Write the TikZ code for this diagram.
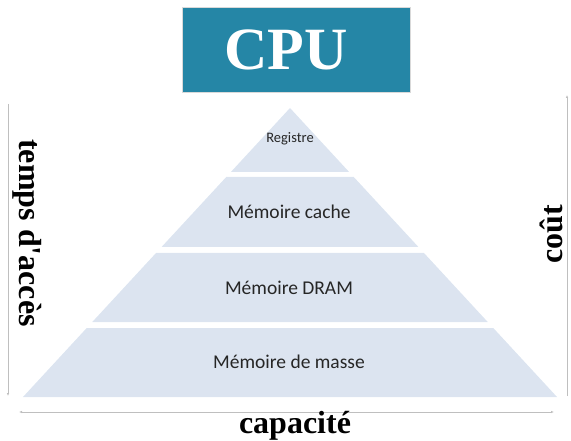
\documentclass[tikz,border=0pt]{standalone}
\usepackage{fontspec}
\newfontfamily\axisfont{Liberation Serif}
\newfontfamily\layerfont{Carlito}
\usetikzlibrary{arrows.meta}
\usetikzlibrary{positioning}

\definecolor{cpublue}{RGB}{37,134,166}
\definecolor{layerfill}{RGB}{220,228,240}

\tikzset{
	layer/.style={fill=layerfill, draw=none},
	layertext/.style={font=\layerfont\fontsize{19.5}{20}\selectfont, text=black!85},
	axis/.style={gray!50, line width=0.6pt, -{Latex[length=3pt,width=2.5pt]}},
	axistext/.style={font=\axisfont\bfseries\fontsize{32}{32}\selectfont, text=black}
}

\begin{document}
\begin{tikzpicture}[x=1pt, y={(0pt,-1pt)}]
	
	\useasboundingbox (0,0) rectangle (571,441);
	
	% processeur
	\node[fill=cpublue, draw=black!15, line width=1pt, minimum width=228pt, minimum height=85pt] (cpu) at (296,50) {};
	\node[font=\axisfont\bfseries\fontsize{60}{60}\selectfont, text=white] (cpulabel) at (286,50) {CPU};
	
	% pyramide
	\def\apx{290}
	\def\apy{108}
	\def\slope{0.924}
	\fill[layer] (\apx,\apy) -- ({\apx+\slope*(172-\apy)},172) -- ({\apx-\slope*(172-\apy)},172) -- cycle;
	\foreach \t/\b in {177/247, 253/322, 328/397}{
		\fill[layer] ({\apx-\slope*(\t-\apy)},\t) -- ({\apx+\slope*(\t-\apy)},\t)
		             -- ({\apx+\slope*(\b-\apy)},\b) -- ({\apx-\slope*(\b-\apy)},\b) -- cycle;
	}
	
	\node[layertext, font=\layerfont\fontsize{14.5}{15}\selectfont] (reg) at (290,139) {Registre};
	\node[layertext] (cache) at (289,212) {Mémoire cache};
	\node[layertext] (dram) at (289,288) {Mémoire DRAM};
	\node[layertext] (masse) at (289,362) {Mémoire de masse};
	
	% axes
	\coordinate (ttop) at (8,104);
	\coordinate (tbot) at (8,396);
	\coordinate (ctop) at (567,95);
	\coordinate (cbot) at (567,396);
	\coordinate (capl) at (19,412);
	\coordinate (capr) at (554,412);
	
	\draw[axis] (ttop) -- (tbot);
	\draw[axis] (cbot) -- (ctop);
	\draw[axis, {Latex[length=3pt,width=2.5pt]}-{Latex[length=3pt,width=2.5pt]}] (capl) -- (capr);
	
	\node[axistext, rotate=-90] (temps) at (27,233) {temps d'accès};
	\node[axistext, rotate=90] (cout) at (551,234) {coût};
	\node[axistext] (cap) at (295,426) {capacité};
	
\end{tikzpicture}
\end{document}
